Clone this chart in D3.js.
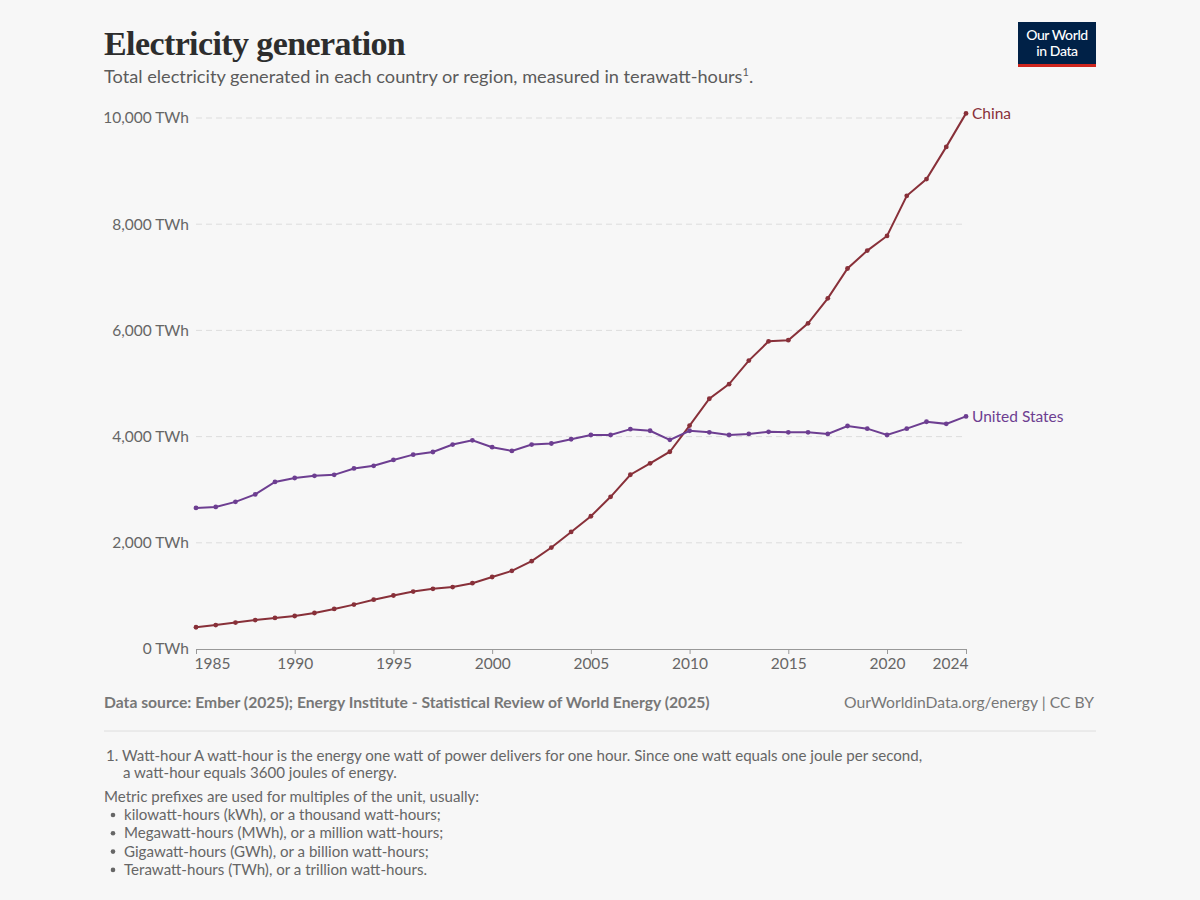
<!DOCTYPE html>
<html>
<head>
<meta charset="utf-8">
<script src="https://cdn.jsdelivr.net/npm/d3@7"></script>
<style>
  body { margin: 0; background: #f7f7f7; }
  svg { display: block; font-family: Lato, "Noto Sans", sans-serif; }
</style>
</head>
<body>
<script>
// ---- data (TWh) ----
const years = d3.range(1985, 2025);
const china = [410, 450, 497, 545, 585, 621, 678, 754, 836, 928,
  1008, 1081, 1134, 1167, 1239, 1356, 1472, 1654, 1911, 2204,
  2500, 2866, 3282, 3496, 3715, 4207, 4713, 4988, 5432, 5794,
  5815, 6133, 6604, 7166, 7503, 7779, 8534, 8849, 9456, 10087];
const usa = [2657, 2676, 2771, 2911, 3147, 3220, 3262, 3280, 3400, 3450,
  3560, 3660, 3710, 3850, 3930, 3800, 3730, 3850, 3870, 3950,
  4030, 4030, 4140, 4110, 3940, 4110, 4080, 4030, 4050, 4090,
  4080, 4080, 4050, 4200, 4150, 4030, 4150, 4280, 4240, 4380];
const yTicks = [0, 2000, 4000, 6000, 8000, 10000];
const xTicks = [1985, 1990, 1995, 2000, 2005, 2010, 2015, 2020, 2024];

const series = [
  { name: "China", values: china, color: "#883039" },
  { name: "United States", values: usa, color: "#6d3e91" }
];

const W = 1200, H = 900;
const svg = d3.select("body").append("svg").attr("width", W).attr("height", H);
svg.append("rect").attr("width", W).attr("height", H).attr("fill", "#f7f7f7");

// ---- header ----
svg.append("text").attr("x", 104).attr("y", 55)
  .attr("font-family", "'Liberation Serif', 'DejaVu Serif', serif")
  .attr("font-size", 34).attr("font-weight", "bold").attr("fill", "#2d2d2d")
  .attr("letter-spacing", -0.6)
  .text("Electricity generation");
const sub = svg.append("text").attr("x", 104).attr("y", 83)
  .attr("font-size", 18.2).attr("fill", "#5b5b5b")
  .text("Total electricity generated in each country or region, measured in terawatt-hours");
sub.append("tspan").attr("font-size", 11).attr("dy", -7).text("1");
sub.append("tspan").attr("dy", 7).text(".");

// logo
const logo = svg.append("g").attr("transform", "translate(1018,22)");
logo.append("rect").attr("width", 78).attr("height", 45).attr("fill", "#002147");
logo.append("rect").attr("y", 42).attr("width", 78).attr("height", 3).attr("fill", "#ce261e");
logo.append("text").attr("x", 39).attr("y", 18).attr("text-anchor", "middle")
  .attr("fill", "#fff").attr("font-size", 14).attr("font-weight", 500).attr("letter-spacing", -0.4).text("Our World");
logo.append("text").attr("x", 39).attr("y", 34).attr("text-anchor", "middle")
  .attr("fill", "#fff").attr("font-size", 14).attr("font-weight", 500).attr("letter-spacing", -0.4).text("in Data");

// ---- scales ----
const x = d3.scaleLinear().domain([1985, 2024]).range([196, 966]);
const y = d3.scaleLinear().domain([0, 10000]).range([649, 118]);

// grid + y labels
const grid = svg.append("g");
grid.selectAll("line").data(yTicks.filter(d => d > 0)).join("line")
  .attr("x1", 196).attr("x2", 966)
  .attr("y1", d => y(d)).attr("y2", d => y(d))
  .attr("stroke", "#dddddd").attr("stroke-dasharray", "6,4");
grid.selectAll("text").data(yTicks).join("text")
  .attr("x", 189).attr("y", d => y(d)).attr("dy", "0.35em")
  .attr("text-anchor", "end").attr("font-size", 15.5).attr("fill", "#666")
  .text(d => d3.format(",")(d) + " TWh");

// x axis
const xAxis = svg.append("g").attr("transform", `translate(0,${y(0)})`)
  .call(d3.axisBottom(x).tickValues(xTicks).tickFormat(d3.format("d")).tickSize(5).tickPadding(4).tickSizeOuter(0));
xAxis.select(".domain").attr("stroke", "#999");
xAxis.selectAll(".tick line").attr("stroke", "#999");
xAxis.selectAll(".tick text").attr("font-size", 15.5).attr("fill", "#666")
  .attr("font-family", "Lato, sans-serif")
  .attr("text-anchor", d => d === 1985 ? "start" : d === 2024 ? "end" : "middle")
  .attr("dx", d => d === 1985 ? -2 : d === 2024 ? 2 : 0);

// ---- lines ----
const line = d3.line().x((d, i) => x(years[i])).y(d => y(d));
series.forEach(s => {
  const g = svg.append("g");
  g.append("path").datum(s.values).attr("d", line)
    .attr("fill", "none").attr("stroke", s.color).attr("stroke-width", 2);
  g.selectAll("circle").data(s.values).join("circle")
    .attr("cx", (d, i) => x(years[i])).attr("cy", d => y(d)).attr("r", 2.4)
    .attr("fill", s.color);
  const last = s.values[s.values.length - 1];
  g.append("text").attr("x", x(2024) + 6).attr("y", y(last)).attr("dy", "0.35em")
    .attr("font-size", 15.5).attr("fill", s.color).text(s.name);
});

// ---- footer ----
svg.append("text").attr("x", 104).attr("y", 708).attr("font-size", 15.7)
  .attr("font-weight", "bold").attr("fill", "#777")
  .text("Data source: Ember (2025); Energy Institute - Statistical Review of World Energy (2025)");
svg.append("text").attr("x", 1094).attr("y", 708).attr("font-size", 15.7)
  .attr("text-anchor", "end").attr("fill", "#777")
  .text("OurWorldinData.org/energy | CC BY");
svg.append("line").attr("x1", 104).attr("x2", 1096).attr("y1", 731).attr("y2", 731)
  .attr("stroke", "#dedede");

const notes = [
  { x: 106, y: 761, t: "1. Watt-hour A watt-hour is the energy one watt of power delivers for one hour. Since one watt equals one joule per second," },
  { x: 123, y: 778, t: "a watt-hour equals 3600 joules of energy." },
  { x: 104, y: 802, t: "Metric prefixes are used for multiples of the unit, usually:" }
];
svg.selectAll(".note").data(notes).join("text").attr("class", "note")
  .attr("x", d => d.x).attr("y", d => d.y).attr("font-size", 15.1).attr("fill", "#666")
  .text(d => d.t);
const bullets = [
  "kilowatt-hours (kWh), or a thousand watt-hours;",
  "Megawatt-hours (MWh), or a million watt-hours;",
  "Gigawatt-hours (GWh), or a billion watt-hours;",
  "Terawatt-hours (TWh), or a trillion watt-hours."
];
bullets.forEach((b, i) => {
  const yy = 820 + i * 18.3;
  svg.append("circle").attr("cx", 113).attr("cy", yy - 5).attr("r", 2.3).attr("fill", "#666");
  svg.append("text").attr("x", 124).attr("y", yy).attr("font-size", 15.1).attr("fill", "#666").text(b);
});
</script>
</body>
</html>
